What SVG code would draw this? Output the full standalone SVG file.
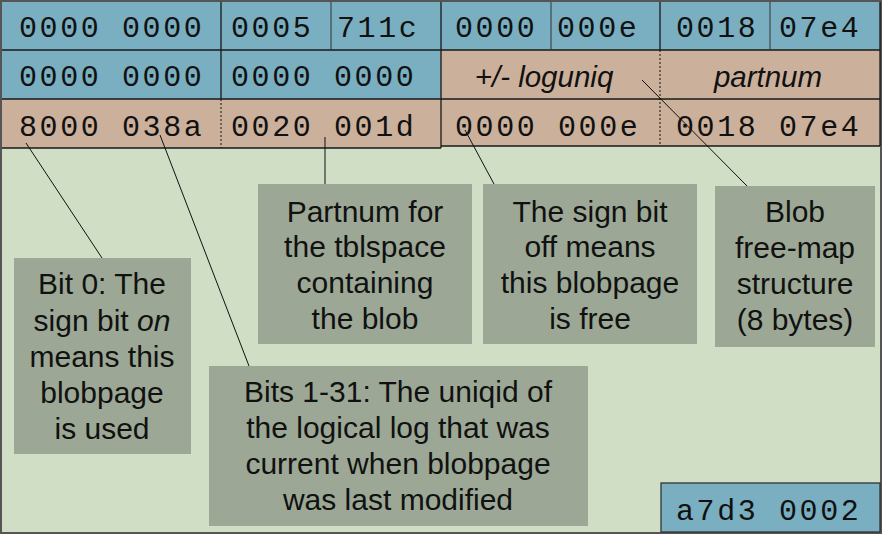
<svg xmlns="http://www.w3.org/2000/svg" width="882" height="534" viewBox="0 0 882 534">
<style>
.blue{fill:#79afc0}
.tan{fill:#cbb09b}
.cellline{stroke:#1a1a1a;stroke-width:1.3;fill:none}
.thin{stroke:#333;stroke-width:1;fill:none}
.dot{stroke:#111;stroke-width:1;stroke-dasharray:2 2;fill:none}
.hex{font-family:"Liberation Mono","Courier New",monospace;font-size:30px;letter-spacing:2.6px;fill:#111}
.lab{font-family:"Liberation Sans",Arial,sans-serif;font-size:29.5px;font-style:italic;fill:#111;text-anchor:middle}
.box{fill:#9ca895}
.bt{font-family:"Liberation Sans",Arial,sans-serif;font-size:30px;fill:#111;text-anchor:middle}
.conn{stroke:#111;stroke-width:1;fill:none}
</style>
<rect x="1" y="1" width="880" height="532" fill="#cfdec5" stroke="#555" stroke-width="2"/>

<g id="table">
  <rect class="blue" x="2" y="2" width="878" height="48"/>
  <rect class="blue" x="2" y="50" width="439" height="49"/>
  <rect class="tan" x="441" y="50" width="439" height="49"/>
  <rect class="tan" x="2" y="99" width="439" height="49"/>
  <rect class="tan" x="441" y="99" width="439" height="47"/>
  <path class="cellline" d="M2 50H880M2 99H880M2 148H441M441 146H880M221 2V99M441 2V148M660 2V50M880 2V146"/>
  <path class="thin" d="M331 2V50M551 2V50M770 2V50"/>
  <path class="dot" d="M221 99V148M660 50V146"/>
  <text class="hex" x="19" y="37">0000 0000</text>
  <text class="hex" x="231" y="37">0005</text>
  <text class="hex" x="337" y="37">711c</text>
  <text class="hex" x="455" y="37">0000</text>
  <text class="hex" x="557" y="37">000e</text>
  <text class="hex" x="676" y="37">0018</text>
  <text class="hex" x="779" y="37">07e4</text>
  <text class="hex" x="19" y="86">0000 0000</text>
  <text class="hex" x="231" y="86">0000 0000</text>
  <text class="lab" x="544" y="87">+/- loguniq</text>
  <text class="lab" x="768" y="87">partnum</text>
  <text class="hex" x="19" y="136">8000 038a</text>
  <text class="hex" x="231" y="136">0020 001d</text>
  <text class="hex" x="455" y="136">0000 000e</text>
  <text class="hex" x="676" y="136">0018 07e4</text>
</g>

<g id="connectors">
  <line class="conn" x1="26" y1="143" x2="102" y2="258"/>
  <line class="conn" x1="160" y1="135" x2="249" y2="366"/>
  <line class="conn" x1="325" y1="137" x2="325" y2="184"/>
  <line class="conn" x1="465" y1="130" x2="494" y2="184"/>
  <line class="conn" x1="642" y1="80" x2="747" y2="186"/>
</g>

<g id="bit0">
  <rect class="box" x="14" y="258" width="177" height="196"/>
  <text class="bt" x="102" y="294">Bit 0: The</text>
  <text class="bt" x="102" y="331">sign bit <tspan font-style="italic">on</tspan></text>
  <text class="bt" x="102" y="367">means this</text>
  <text class="bt" x="102" y="403">blobpage</text>
  <text class="bt" x="102" y="439">is used</text>
</g>

<g id="partnum">
  <rect class="box" x="258" y="184" width="214" height="160"/>
  <text class="bt" x="365" y="222">Partnum for</text>
  <text class="bt" x="365" y="257">the tblspace</text>
  <text class="bt" x="365" y="293">containing</text>
  <text class="bt" x="365" y="329">the blob</text>
</g>

<g id="signoff">
  <rect class="box" x="483" y="184" width="214" height="160"/>
  <text class="bt" x="590" y="222">The sign bit</text>
  <text class="bt" x="590" y="257">off means</text>
  <text class="bt" x="590" y="293">this blobpage</text>
  <text class="bt" x="590" y="329">is free</text>
</g>

<g id="freemap">
  <rect class="box" x="715" y="186" width="160" height="161"/>
  <text class="bt" x="795" y="222">Blob</text>
  <text class="bt" x="795" y="258">free-map</text>
  <text class="bt" x="795" y="294">structure</text>
  <text class="bt" x="795" y="330">(8 bytes)</text>
</g>

<g id="bits131">
  <rect class="box" x="209" y="366" width="379" height="160"/>
  <text class="bt" x="398" y="402">Bits 1-31: The uniqid of</text>
  <text class="bt" x="398" y="438">the logical log that was</text>
  <text class="bt" x="398" y="474">current when blobpage</text>
  <text class="bt" x="398" y="510">was last modified</text>
</g>

<g id="footer">
  <rect class="blue" x="661" y="483" width="219" height="49" stroke="#333" stroke-width="1.3"/>
  <text class="hex" x="676" y="520">a7d3 0002</text>
</g>
</svg>
